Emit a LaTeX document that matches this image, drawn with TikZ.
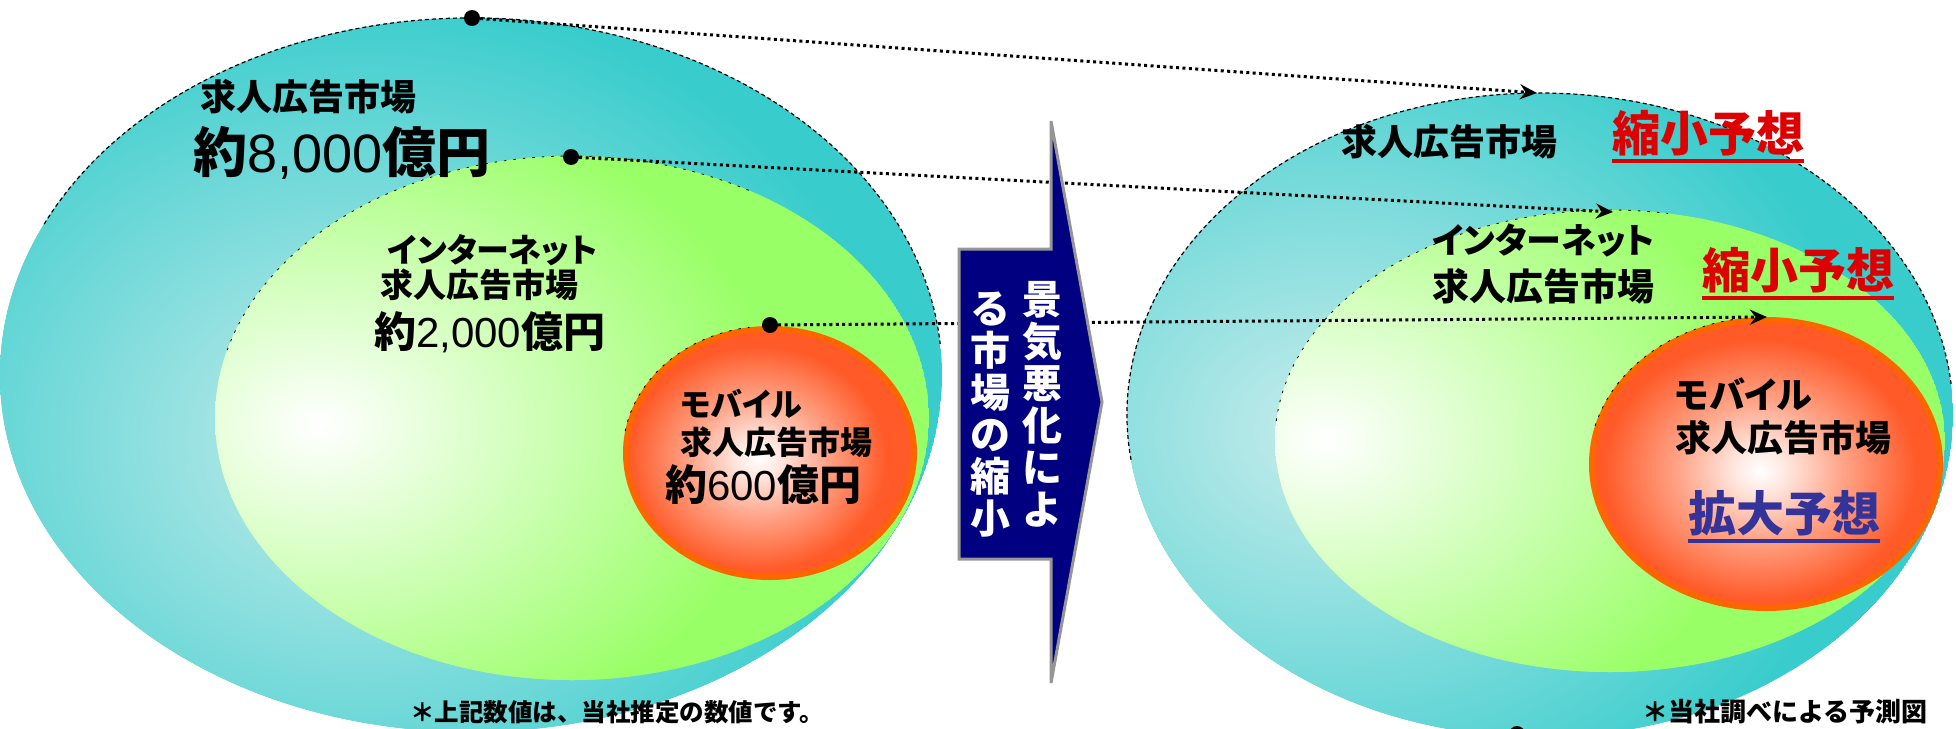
\documentclass[tikz,border=0pt]{standalone}
\usepackage{fontspec}
\newfontfamily\jp{Noto Sans CJK JP}
\newfontfamily\jpp{Noto Sans CJK JP}[RawFeature=+palt]
\newfontfamily\arialf{Liberation Sans}
\usetikzlibrary{arrows.meta}
\newcommand\fsz[1]{\fontsize{#1}{#1}\selectfont}
\definecolor{cteal}{RGB}{56,204,204}
\definecolor{tealin}{RGB}{200,236,236}
\definecolor{cgreen}{RGB}{153,255,102}
\definecolor{corange}{RGB}{255,102,0}
\definecolor{ofill}{RGB}{255,90,40}
\definecolor{navyb}{RGB}{0,0,128}
\definecolor{agray}{RGB}{150,150,150}
\definecolor{cred}{RGB}{221,0,0}
\definecolor{cblue}{RGB}{51,51,153}
\pgfdeclareradialshading{orsh}{\pgfpoint{0bp}{0bp}}{color(0bp)=(white); color(4bp)=(white!85!ofill); color(12bp)=(white!45!ofill); color(23bp)=(ofill); color(50bp)=(ofill)}
\tikzset{
 lbl/.style={inner sep=0pt, anchor=west, font=\jp\bfseries\fsz{#1}},
 lblp/.style={inner sep=0pt, anchor=west, font=\jpp\bfseries\fsz{#1}},
 dot/.style={circle, fill=black, inner sep=0pt, minimum size=16pt},
 dotline/.style={line width=3pt, dash pattern=on 3pt off 3.4pt, -{Stealth[length=17pt,width=15pt]}},
 rimT/.style={black, line width=1.2pt, dash pattern=on 4pt off 3pt},
 rimG/.style={black, line width=0.8pt, dash pattern=on 2.5pt off 7pt},
 uline/.style={line width=3.5pt},
}
\begin{document}
\begin{tikzpicture}[x=1pt,y=-1pt]
\useasboundingbox (0,0) rectangle (1956,728);
\coordinate (LTc) at (471,375);
\coordinate (LGc) at (572,418);
\coordinate (LOc) at (770,453);
\coordinate (RTc) at (1540,415);
\coordinate (RGc) at (1610,441);
\coordinate (ROc) at (1766,464);

% ---- left ellipses
\begin{scope}
\clip (LTc) ellipse[x radius=471,y radius=357];
\fill[cteal] (LTc) ellipse[x radius=471,y radius=357];
\shade[inner color=tealin,outer color=cteal] (360,440) ellipse[x radius=540,y radius=450];
\end{scope}
\draw[rimT] ([shift={(205:471 and 357)}]LTc) arc[start angle=205,end angle=355,x radius=471,y radius=357];

\begin{scope}
\clip (LGc) ellipse[x radius=357,y radius=262];
\fill[cgreen] (LGc) ellipse[x radius=357,y radius=262];
\shade[inner color=white,outer color=cgreen] (320,425) ellipse[x radius=460,y radius=340];
\end{scope}
\draw[rimG] ([shift={(195:357 and 262)}]LGc) arc[start angle=195,end angle=300,x radius=357,y radius=262];

\begin{scope}
\clip (LOc) ellipse[x radius=144,y radius=124];
\fill[ofill] (LOc) ellipse[x radius=144,y radius=124];
\shade[shading=orsh] (758,458) ellipse[x radius=140,y radius=122];
\end{scope}
\draw[corange,line width=6pt] (LOc) ellipse[x radius=144,y radius=124];
\draw[rimG] ([shift={(190:147 and 127)}]LOc) arc[start angle=190,end angle=262,x radius=147,y radius=127];

% ---- right ellipses
\begin{scope}
\clip (RTc) ellipse[x radius=413,y radius=322];
\fill[cteal] (RTc) ellipse[x radius=413,y radius=322];
\shade[inner color=tealin,outer color=cteal] (1330,430) ellipse[x radius=540,y radius=440];
\end{scope}
\draw[rimT] ([shift={(172:413 and 322)}]RTc) arc[start angle=172,end angle=355,x radius=413,y radius=322];

\begin{scope}
\clip (RGc) ellipse[x radius=335,y radius=231];
\fill[cgreen] (RGc) ellipse[x radius=335,y radius=231];
\shade[inner color=white,outer color=cgreen] (1325,440) ellipse[x radius=440,y radius=330];
\end{scope}
\draw[rimG] ([shift={(185:335 and 231)}]RGc) arc[start angle=185,end angle=280,x radius=335,y radius=231];

\begin{scope}
\clip (ROc) ellipse[x radius=174,y radius=144];
\fill[ofill] (ROc) ellipse[x radius=174,y radius=144];
\shade[shading=orsh] (1760,470) ellipse[x radius=170,y radius=142];
\end{scope}
\draw[corange,line width=6pt] (ROc) ellipse[x radius=174,y radius=144];
\draw[rimG] ([shift={(195:177 and 147)}]ROc) arc[start angle=195,end angle=262,x radius=177,y radius=147];

% ---- dots and dotted connectors
\node[dot] (d1) at (472,18) {};
\node[dot] (d2) at (571,157) {};
\node[dot] (d3) at (770,325) {};
\node[dot] (d4) at (1517,734) {};
\coordinate (t1) at (1537,93);
\coordinate (t2) at (1613,212);
\coordinate (t3) at (1767,317);
\draw[dotline] (d1) -- (t1);
\draw[dotline] (d2) -- (t2);
\draw[dotline] (d3) -- (t3);

% ---- central arrow
\path[draw=agray,line width=3pt,fill=navyb,line join=miter]
  (1051,121) -- (1102,402) -- (1051,683) -- (1051,559) -- (959,559) -- (959,249) -- (1051,249) -- cycle;
\node[inner sep=0pt,align=center,text=white,font=\jp\bfseries\fontsize{40}{42}\selectfont] (colR) at (1042,404.5) {景\\気\\悪\\化\\に\\よ};
\node[inner sep=0pt,align=center,text=white,font=\jp\bfseries\fontsize{40}{42}\selectfont] (colL) at (990,414.5) {る\\市\\場\\の\\縮\\小};

% ---- left texts
\node[lbl=36] (T1) at (200,97) {求人広告市場};
\node[lbl=54] (T2) at (193,153) {約{\arialf\mdseries 8,000}億円};
\node[lblp=33] (G1) at (387,250) {インターネット};
\node[lbl=33] (G2) at (380,285) {求人広告市場};
\node[lbl=42] (G3) at (374,332) {約{\arialf\mdseries 2,000}億円};
\node[lblp=32] (O1) at (680,404) {モバイル};
\node[lbl=32] (O2) at (680,442) {求人広告市場};
\node[lbl=42] (O3) at (665,485) {約{\arialf\mdseries 600}億円};

% ---- right texts
\node[lbl=36] (R1) at (1341,142) {求人広告市場};
\node[lbl=48,text=cred] (R2) at (1612,133) {縮小予想};
\draw[uline,cred] ([yshift=-5pt]R2.south west) -- ([yshift=-5pt]R2.south east);
\node[lblp=35] (R3) at (1432,240) {インターネット};
\node[lbl=37] (R4) at (1432,286) {求人広告市場};
\node[lbl=48,text=cred] (R5) at (1702,270) {縮小予想};
\draw[uline,cred] ([yshift=-5pt]R5.south west) -- ([yshift=-5pt]R5.south east);
\node[lblp=36] (R6) at (1675,394) {モバイル};
\node[lbl=36] (R7) at (1675,438) {求人広告市場};
\node[lbl=48,text=cblue] (R8) at (1688,513) {拡大予想};
\draw[uline,cblue] ([yshift=-5pt]R8.south west) -- ([yshift=-5pt]R8.south east);

% ---- footnotes
\node[lbl=24.5] (F1) at (410,712) {＊上記数値は、当社推定の数値です。};
\node[lbl=26] (F2) at (1642,712) {＊当社調べによる予測図};
\end{tikzpicture}
\end{document}
